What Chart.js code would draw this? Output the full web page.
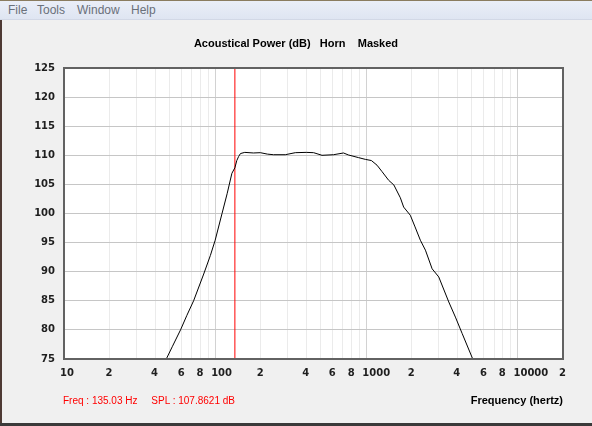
<!DOCTYPE html>
<html>
<head>
<meta charset="utf-8">
<script src="https://cdn.jsdelivr.net/npm/chart.js@4.4.1/dist/chart.umd.min.js"></script>
<style>
  html, body { margin: 0; padding: 0; background: #f0f0f0; overflow: hidden; }
  #win { position: relative; width: 592px; height: 426px; background: #f0f0f0; }
  #menu { position: absolute; left: 0; top: 0; width: 592px; height: 18px;
          background: linear-gradient(#eaeef8, #dfe5f2);
          border-top: 1px solid #8a7c60; border-bottom: 1px solid #d2d8e6; }
  #menu span { position: absolute; top: 2px; font: 12px "Liberation Sans", Arial, sans-serif;
               color: #6a707a; line-height: 15px; }
  #edgeL { position: absolute; left: 0; top: 20px; width: 2px; height: 406px; background: #4e3a34; }
  #edgeB { position: absolute; left: 0; bottom: 0; width: 592px; height: 3px; background: #3a3a3a; }
  #readout { position: absolute; left: 63px; top: 395px; font: 10px "Liberation Sans", Arial, sans-serif;
             color: #ff0000; white-space: pre; line-height: 12px; }
  canvas { position: absolute; left: 0; top: 0; }
</style>
</head>
<body>
<div id="win">
  <canvas id="myChart" width="592" height="426"></canvas>
  <div id="menu">
    <span style="left:8px">File</span>
    <span style="left:37px">Tools</span>
    <span style="left:77px">Window</span>
    <span style="left:131px">Help</span>
  </div>
  <div id="edgeL"></div>
  <div id="edgeB"></div>
  <div id="readout">Freq : 135.03 Hz     SPL : 107.8621 dB</div>
</div>
<script>
// Frekans (Hz) ve akustik güç (dB) değerleri
const freqHz = [47.5, 52, 59, 65, 72, 84, 93, 100, 111, 120, 129, 135.03, 139, 143, 147, 157,
  179, 199, 222, 243, 291, 339, 400, 448, 509, 607, 706, 763, 889, 985, 1080, 1177, 1270,
  1406, 1521, 1679, 1766, 1954, 2100, 2278, 2460, 2724, 3014, 3511, 3884, 4302, 5058];
const splDb = [75, 77.1, 80.0, 82.5, 85.0, 89.6, 92.8, 95.4, 100.0, 103.4, 106.9, 107.86, 109.1, 109.8, 110.3, 110.5,
  110.4, 110.45, 110.2, 110.1, 110.1, 110.45, 110.5, 110.45, 110.0, 110.1, 110.4, 110.05, 109.6, 109.3, 109.1, 108.3, 107.2,
  105.7, 104.9, 102.7, 101.1, 99.7, 97.7, 95.4, 93.7, 90.5, 89.1, 84.8, 82.2, 79.4, 75];

// İmleç (kırmızı dikey çizgi)
const cursorHz = [135.03, 135.03];
const cursorDb = [75, 125];

// Eksen etiketleri
const xTickValues = [10, 20, 30, 40, 50, 60, 70, 80, 90,
  100, 200, 300, 400, 500, 600, 700, 800, 900,
  1000, 2000, 3000, 4000, 5000, 6000, 7000, 8000, 9000,
  10000, 20000];
const xTickLabels = ['10', '2', '', '4', '', '6', '', '8', '',
  '100', '2', '', '4', '', '6', '', '8', '',
  '1000', '2', '', '4', '', '6', '', '8', '',
  '10000', '2'];
const decades = [10, 100, 1000, 10000];

const tickFont = { family: 'DejaVu Sans', size: 10, weight: 'bold' };
const boldFont = { family: 'Liberation Sans', size: 11, weight: 'bold' };

// Çizim alanı: beyaz zemin ve koyu çerçeve
const plotFrame = {
  id: 'plotFrame',
  beforeDraw(chart) {
    const a = chart.chartArea, c = chart.ctx;
    c.save();
    c.fillStyle = '#ffffff';
    c.fillRect(a.left, a.top, a.right - a.left, a.bottom - a.top);
    c.restore();
  },
  afterDatasetsDraw(chart) {
    const a = chart.chartArea, c = chart.ctx;
    c.save();
    c.strokeStyle = '#626262';
    c.lineWidth = 2;
    c.strokeRect(a.left, a.top, a.right - a.left, a.bottom - a.top);
    c.restore();
  }
};

const ctx = document.getElementById('myChart').getContext('2d');
const chart = new Chart(ctx, {
  type: 'line',
  data: {
    datasets: [{
      data: freqHz.map((f, i) => ({ x: f, y: splDb[i] })),
      borderColor: '#000000',
      borderWidth: 1,
      pointRadius: 0,
      tension: 0
    }, {
      data: cursorHz.map((f, i) => ({ x: f, y: cursorDb[i] })),
      borderColor: '#ff0000',
      borderWidth: 1,
      pointRadius: 0
    }]
  },
  options: {
    responsive: false,
    animation: false,
    devicePixelRatio: 1,
    layout: { padding: { left: 29, right: 29, top: 0, bottom: 0 } },
    plugins: {
      legend: { display: false },
      tooltip: { enabled: false },
      title: {
        display: true,
        text: 'Acoustical Power (dB)   Horn    Masked',
        color: '#000000',
        font: boldFont,
        padding: { top: 37, bottom: 17.8 }
      }
    },
    scales: {
      x: {
        type: 'logarithmic',
        min: 10,
        max: 20000,
        afterBuildTicks: s => { s.ticks = xTickValues.map(v => ({ value: v })); },
        afterFit: s => { s.height = 67; },
        border: { display: false },
        grid: {
          drawTicks: false,
          color: c => (c.tick && decades.includes(c.tick.value)) ? '#d2d2d2' : '#ebebeb'
        },
        ticks: {
          autoSkip: false,
          maxRotation: 0,
          minRotation: 0,
          align: 'start',
          labelOffset: -4,
          padding: 8,
          color: '#1e1e1e',
          font: tickFont,
          callback: (v, i) => xTickLabels[i]
        },
        title: {
          display: true,
          text: 'Frequency (hertz)',
          align: 'end',
          color: '#000000',
          font: boldFont,
          padding: { top: 0, bottom: 18 }
        }
      },
      y: {
        min: 75,
        max: 125,
        afterFit: s => { s.width = 35; },
        border: { display: false },
        grid: { drawTicks: false, color: '#c6c6c6' },
        ticks: {
          stepSize: 5,
          padding: 9,
          color: '#1e1e1e',
          font: tickFont
        }
      }
    }
  },
  plugins: [plotFrame]
});
</script>
</body>
</html>
